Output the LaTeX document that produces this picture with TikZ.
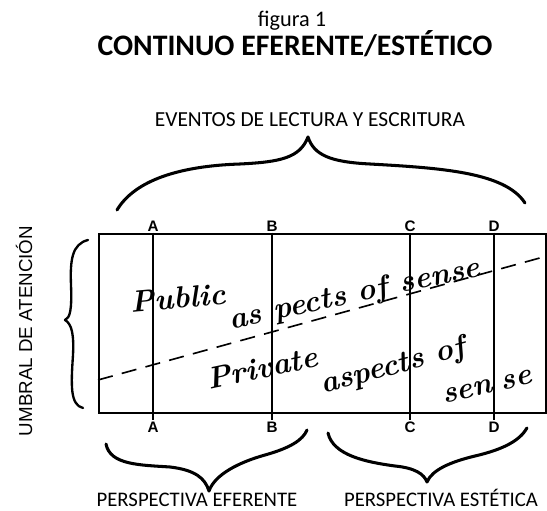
\documentclass[tikz,border=0pt]{standalone}
\usepackage{fontspec}
\newfontfamily\calib{Carlito}
\newfontfamily\arial{Liberation Sans}
\usepackage{tikz}
\usetikzlibrary{positioning}
\tikzset{
  frame/.style={line width=1.4pt},
  curly/.style={line width=2.6pt, line cap=round, line join=round},
  caption/.style={font=\calib\fontsize{17.7}{18}\selectfont, inner sep=0pt, anchor=base},
  hand/.style={font=\bfseries\itshape\fontsize{26}{26}\selectfont, inner sep=0pt},
  letter/.style={font=\arial\bfseries\fontsize{13}{13}\selectfont, inner sep=1pt}
}

\begin{document}
\begin{tikzpicture}[x=0.03cm,y=-0.03cm]
    \useasboundingbox (0,0) rectangle (547,511);
    \node[caption, font=\calib\fontsize{19}{19}\selectfont] (fig) at (292,27) {figura 1};
    \node[caption, font=\calib\bfseries\fontsize{25.4}{26}\selectfont] (title) at (295,56) {CONTINUO EFERENTE/ESTÉTICO};
    \node[caption, font=\calib\fontsize{18.3}{19}\selectfont] (events) at (310,127) {EVENTOS DE LECTURA Y ESCRITURA};
    \node[inner sep=0pt, anchor=base, rotate=90, font=\arial\fontsize{16}{16}\selectfont] (umbral) at (32,331) {UMBRAL DE ATENCIÓN};
    \node[caption] (efer) at (197,507) {PERSPECTIVA EFERENTE};
    \node[caption] (estet) at (441,507) {PERSPECTIVA ESTÉTICA};
    \draw[frame] (99,234) rectangle (546,413);
    \foreach \l/\x in {A/153,B/272,C/410,D/494} {
      \node[letter] (top\l) at (\x,226) {\l};
      \node[letter] (bot\l) at (\x,427) {\l};
      \draw[line width=1.6pt] (top\l.south) -- (bot\l.north);
    }
    \draw[frame, dash pattern=on 13pt off 8pt] (98,380) -- (547,256);
    \node[hand, rotate=5] (pub) at (178,298) {Public};
    \node[hand, rotate=12] (asp1) at (355,295) {as pects of sense};
    \node[hand, rotate=12] (priv) at (262,368) {Private};
    \node[hand, rotate=15] (asp2) at (393,367) {aspects of};
    \node[hand, rotate=13] (sense2) at (487,387) {sen\hspace{0.3em}se};
    \draw[curly] (117,210) .. controls (135,180) and (180,166) .. (240,164)
      .. controls (280,162) and (300,158) .. (308,137)
      .. controls (314,155) and (330,162) .. (370,164)
      .. controls (440,168) and (505,172) .. (525,203);
    \draw[curly, line width=2pt] (88,240) .. controls (72,244) and (70,260) .. (71,285)
      .. controls (72,310) and (70,318) .. (65,320)
      .. controls (72,324) and (74,335) .. (73,355)
      .. controls (71,385) and (70,405) .. (83,408);
    \draw[curly] (106,444) .. controls (110,465) and (140,465) .. (170,467)
      .. controls (195,470) and (205,478) .. (209,491)
      .. controls (215,474) and (240,462) .. (265,455)
      .. controls (290,448) and (303,440) .. (307,430);
    \draw[curly] (328,433) .. controls (333,455) and (365,462) .. (395,466)
      .. controls (415,468) and (424,474) .. (427,482)
      .. controls (432,470) and (450,462) .. (475,456)
      .. controls (505,449) and (520,440) .. (527,428);
\end{tikzpicture}
\end{document}
